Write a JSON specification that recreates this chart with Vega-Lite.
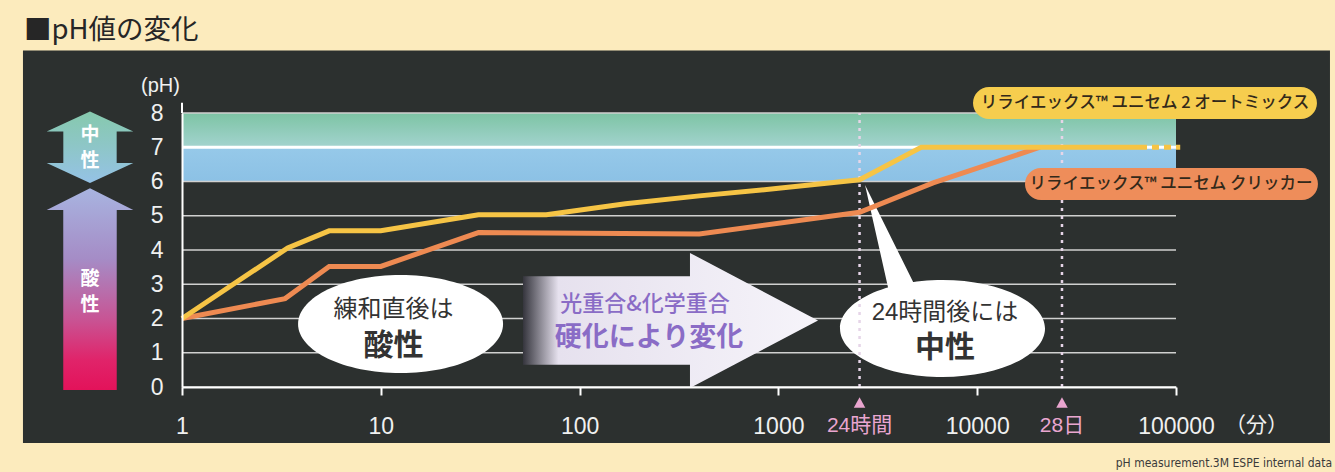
{
  "$schema": "https://vega.github.io/schema/vega-lite/v6.json",
  "width": 994,
  "height": 274,
  "autosize": {"type": "none"},
  "padding": {"left": 182, "top": 113, "right": 159, "bottom": 85},
  "background": "#fcebbd",
  "title": {"text": "■pH値の変化", "anchor": "start", "frame": "group", "orient": "top", "font": "Noto Sans CJK JP", "fontSize": 27.5, "fontWeight": "normal", "color": "#262626", "dx": -158, "dy": -6, "offset": 0},
  "config": {"view": {"stroke": null}, "font": "Liberation Sans, Noto Sans CJK JP, sans-serif", "axisY": {"labelOverlap": false}},
  "datasets": {
    "ph": [
      {"series": "リライエックス™ ユニセム 2 オートミックス", "kind": "measured", "t": 1, "ph": 2.0},
      {"series": "リライエックス™ ユニセム 2 オートミックス", "kind": "measured", "t": 3.4, "ph": 4.06},
      {"series": "リライエックス™ ユニセム 2 オートミックス", "kind": "measured", "t": 5.5, "ph": 4.56},
      {"series": "リライエックス™ ユニセム 2 オートミックス", "kind": "measured", "t": 10, "ph": 4.56},
      {"series": "リライエックス™ ユニセム 2 オートミックス", "kind": "measured", "t": 31, "ph": 5.03},
      {"series": "リライエックス™ ユニセム 2 オートミックス", "kind": "measured", "t": 68, "ph": 5.03},
      {"series": "リライエックス™ ユニセム 2 オートミックス", "kind": "measured", "t": 170, "ph": 5.35},
      {"series": "リライエックス™ ユニセム 2 オートミックス", "kind": "measured", "t": 400, "ph": 5.58},
      {"series": "リライエックス™ ユニセム 2 オートミックス", "kind": "measured", "t": 1000, "ph": 5.8},
      {"series": "リライエックス™ ユニセム 2 オートミックス", "kind": "measured", "t": 2560, "ph": 6.05},
      {"series": "リライエックス™ ユニセム 2 オートミックス", "kind": "measured", "t": 5230, "ph": 7.0},
      {"series": "リライエックス™ ユニセム 2 オートミックス", "kind": "measured", "t": 65900, "ph": 7.0},
      {"series": "リライエックス™ ユニセム 2 オートミックス", "kind": "extrapolated", "t": 65900, "ph": 7.0},
      {"series": "リライエックス™ ユニセム 2 オートミックス", "kind": "extrapolated", "t": 105000, "ph": 7.0},
      {"series": "リライエックス™ ユニセム クリッカー", "kind": "measured", "t": 1, "ph": 2.0},
      {"series": "リライエックス™ ユニセム クリッカー", "kind": "measured", "t": 3.3, "ph": 2.58},
      {"series": "リライエックス™ ユニセム クリッカー", "kind": "measured", "t": 5.5, "ph": 3.52},
      {"series": "リライエックス™ ユニセム クリッカー", "kind": "measured", "t": 10, "ph": 3.52},
      {"series": "リライエックス™ ユニセム クリッカー", "kind": "measured", "t": 31, "ph": 4.51},
      {"series": "リライエックス™ ユニセム クリッカー", "kind": "measured", "t": 400, "ph": 4.47},
      {"series": "リライエックス™ ユニセム クリッカー", "kind": "measured", "t": 2560, "ph": 5.1},
      {"series": "リライエックス™ ユニセム クリッカー", "kind": "measured", "t": 6000, "ph": 5.96},
      {"series": "リライエックス™ ユニセム クリッカー", "kind": "measured", "t": 20700, "ph": 7.0}
    ],
    "grid": [{"ph": 0}, {"ph": 1}, {"ph": 2}, {"ph": 3}, {"ph": 4}, {"ph": 5}, {"ph": 6}, {"ph": 8}],
    "markers": [{"t": 2560, "label": "24時間"}, {"t": 26700, "label": "28日"}]
  },
  "layer": [
    {
      "data": {"values": [{}]},
      "mark": {"type": "rect", "fill": "#2c302f"},
      "encoding": {
        "x": {"datum": 0.1585, "type": "quantitative",
          "scale": {"type": "log", "domain": [1, 100000], "nice": false},
          "axis": {"values": [1, 10, 100, 1000, 10000, 100000], "format": "d", "title": "（分）", "zindex": 1, "grid": false,
            "domainColor": "#ffffff", "domainWidth": 2, "tickColor": "#ffffff", "tickWidth": 2, "tickSize": 8,
            "labelColor": "#f0f0f0", "labelFontSize": 23, "labelFont": "Liberation Sans", "labelPadding": 31, "labelBaseline": "middle",
            "labelFlush": false, "labelOverlap": false,
            "titleColor": "#f0f0f0", "titleFont": "Noto Sans CJK JP", "titleFontSize": 21, "titleFontWeight": "normal",
            "titleX": 1074, "titleY": 38, "titleAlign": "center", "titleBaseline": "middle"}},
        "x2": {"datum": 595000},
        "y": {"datum": 9.825, "type": "quantitative",
          "scale": {"domain": [0, 8], "nice": false, "zero": false},
          "axis": {"values": [0, 1, 2, 3, 4, 5, 6, 7, 8], "tickCount": 9, "title": "(pH)", "zindex": 1, "grid": false,
            "domainColor": "#ffffff", "domainWidth": 2, "ticks": false, "tickSize": 0,
            "labelColor": "#f0f0f0", "labelFontSize": 23, "labelFont": "Liberation Sans", "labelPadding": 19, "labelBaseline": "middle",
            "labelOverlap": false, "labelFlush": false, "labelSeparation": 0, "labelLimit": 0,
            "titleAngle": 0, "titleX": -22, "titleY": -28, "titleAlign": "center", "titleBaseline": "middle",
            "titleColor": "#f0f0f0", "titleFont": "Liberation Sans", "titleFontSize": 20, "titleFontWeight": "normal"}},
        "y2": {"datum": -1.635}
      }
    },
    {
      "data": {"values": [{}]},
      "mark": {"type": "rect", "fill": {"gradient": "linear", "x1": 0, "y1": 0, "x2": 0, "y2": 1, "stops": [{"offset": 0, "color": "#7dc4a4"}, {"offset": 1, "color": "#a3d3cf"}]}},
      "encoding": {"x": {"datum": 1, "type": "quantitative"}, "x2": {"datum": 100000}, "y": {"datum": 8, "type": "quantitative"}, "y2": {"datum": 7}}
    },
    {
      "data": {"values": [{}]},
      "mark": {"type": "rect", "fill": {"gradient": "linear", "x1": 0, "y1": 0, "x2": 0, "y2": 1, "stops": [{"offset": 0, "color": "#96c9e9"}, {"offset": 1, "color": "#8cc1e5"}]}},
      "encoding": {"x": {"datum": 1, "type": "quantitative"}, "x2": {"datum": 100000}, "y": {"datum": 7, "type": "quantitative"}, "y2": {"datum": 6}}
    },
    {
      "data": {"name": "grid"},
      "mark": {"type": "rule", "color": "#d0d0d0", "strokeWidth": 1.5},
      "encoding": {"x": {"datum": 1, "type": "quantitative"}, "x2": {"datum": 100000}, "y": {"field": "ph", "type": "quantitative"}}
    },
    {
      "data": {"values": [{}]},
      "mark": {"type": "rule", "color": "#ffffff", "strokeWidth": 3},
      "encoding": {"x": {"datum": 1, "type": "quantitative"}, "x2": {"datum": 100000}, "y": {"datum": 7, "type": "quantitative"}}
    },
    {
      "data": {"values": [{}]},
      "mark": {"type": "rule", "color": "#ffffff", "strokeWidth": 2},
      "encoding": {"x": {"datum": 1, "type": "quantitative"}, "y": {"datum": 8, "type": "quantitative"}, "y2": {"datum": 8.3}}
    },
    {
      "data": {"values": [{}]},
      "mark": {"type": "point", "filled": true, "opacity": 1, "strokeWidth": 0, "size": 7500,
        "shape": "M0,-0.827L1,-0.365L0.616,-0.365L0.616,0.365L1,0.365L0,0.827L-1,0.365L-0.616,0.365L-0.616,-0.365L-1,-0.365Z",
        "fill": {"gradient": "linear", "x1": 0, "y1": 0, "x2": 0, "y2": 1, "stops": [{"offset": 0, "color": "#86c9ad"}, {"offset": 0.5, "color": "#8ec6c8"}, {"offset": 1, "color": "#95c2e6"}]}},
      "encoding": {"x": {"datum": 0.3445, "type": "quantitative"}, "y": {"datum": 7.0, "type": "quantitative"}}
    },
    {
      "data": {"values": [{}]},
      "mark": {"type": "point", "filled": true, "opacity": 1, "strokeWidth": 0, "size": 40724,
        "shape": "M0,-1L0.429,-0.785L0.265,-0.785L0.265,1L-0.265,1L-0.265,-0.785L-0.429,-0.785Z",
        "fill": {"gradient": "linear", "x1": 0, "y1": 0, "x2": 0, "y2": 1, "stops": [{"offset": 0, "color": "#a8b4e0"}, {"offset": 0.35, "color": "#a58cc6"}, {"offset": 0.65, "color": "#c85494"}, {"offset": 0.85, "color": "#e0246a"}, {"offset": 1, "color": "#e3125a"}]}},
      "encoding": {"x": {"datum": 0.3445, "type": "quantitative"}, "y": {"datum": 2.856, "type": "quantitative"}}
    },
    {
      "data": {"values": [{}]},
      "mark": {"type": "point", "filled": true, "opacity": 1, "strokeWidth": 0, "size": 87025,
        "shape": "M-1,-0.3L0.132,-0.3L0.132,-0.458L1,0L0.132,0.458L0.132,0.3L-1,0.3Z",
        "fill": {"gradient": "linear", "x1": 0, "y1": 0, "x2": 1, "y2": 0, "stops": [{"offset": 0, "color": "#35353d"}, {"offset": 0.12, "color": "#e6e1ee"}, {"offset": 1, "color": "#f6f4fa"}]}},
      "encoding": {"x": {"datum": 286.6, "type": "quantitative"}, "y": {"datum": 1.942, "type": "quantitative"}}
    },
    {
      "data": {"values": [{}]},
      "mark": {"type": "point", "filled": true, "opacity": 1, "strokeWidth": 0, "size": 42025, "color": "#ffffff",
        "shape": "M-1,0A1,0.478 0 1,1 1,0A1,0.478 0 1,1 -1,0Z"},
      "encoding": {"x": {"datum": 12.57, "type": "quantitative"}, "y": {"datum": 1.839, "type": "quantitative"}}
    },
    {
      "data": {"values": [{}]},
      "mark": {"type": "point", "filled": true, "opacity": 1, "strokeWidth": 0, "size": 42025, "color": "#ffffff",
        "shape": "M-1,0A1,0.473 0 1,1 1,0A1,0.473 0 1,1 -1,0Z M-0.52,-0.35L-0.756,-1.4L-0.26,-0.4Z"},
      "encoding": {"x": {"datum": 6692, "type": "quantitative"}, "y": {"datum": 1.708, "type": "quantitative"}}
    },
    {
      "data": {"name": "markers"},
      "mark": {"type": "rule", "color": "#e6d5e8", "strokeWidth": 2.5, "strokeDash": [3, 5]},
      "encoding": {"x": {"field": "t", "type": "quantitative"}, "y": {"datum": 0, "type": "quantitative"}, "y2": {"datum": 8}}
    },
    {
      "data": {"name": "markers"},
      "mark": {"type": "point", "filled": true, "opacity": 1, "strokeWidth": 0, "size": 132, "color": "#e9a5cf",
        "shape": "M0,-0.9L1,0.9L-1,0.9Z"},
      "encoding": {"x": {"field": "t", "type": "quantitative"}, "y": {"datum": -0.453, "type": "quantitative"}}
    },
    {
      "data": {"name": "markers"},
      "mark": {"type": "text", "color": "#eaa6d0", "fontSize": 21, "font": "Liberation Sans, Noto Sans CJK JP", "baseline": "middle", "align": "center"},
      "encoding": {"x": {"field": "t", "type": "quantitative"}, "y": {"datum": -1.14, "type": "quantitative"}, "text": {"field": "label"}}
    },
    {
      "data": {"name": "ph"},
      "transform": [{"filter": {"field": "series", "equal": "リライエックス™ ユニセム クリッカー"}}],
      "mark": {"type": "line", "strokeWidth": 5},
      "encoding": {
        "x": {"field": "t", "type": "quantitative"},
        "y": {"field": "ph", "type": "quantitative"},
        "color": {"field": "series", "type": "nominal", "scale": {"domain": ["リライエックス™ ユニセム 2 オートミックス", "リライエックス™ ユニセム クリッカー"], "range": ["#f6c445", "#ee8a52"]}, "legend": null}
      }
    },
    {
      "data": {"name": "ph"},
      "transform": [{"filter": {"field": "series", "equal": "リライエックス™ ユニセム 2 オートミックス"}}, {"filter": {"field": "kind", "equal": "measured"}}],
      "mark": {"type": "line", "strokeWidth": 5},
      "encoding": {
        "x": {"field": "t", "type": "quantitative"},
        "y": {"field": "ph", "type": "quantitative"},
        "color": {"field": "series", "type": "nominal", "legend": null}
      }
    },
    {
      "data": {"name": "ph"},
      "transform": [{"filter": {"field": "kind", "equal": "extrapolated"}}],
      "mark": {"type": "line", "strokeWidth": 5, "strokeDash": [7, 5]},
      "encoding": {
        "x": {"field": "t", "type": "quantitative"},
        "y": {"field": "ph", "type": "quantitative"},
        "color": {"field": "series", "type": "nominal", "legend": null}
      }
    },
    {
      "data": {"values": [{}]},
      "mark": {"type": "rect", "fill": "#f6cd4e", "cornerRadius": 16},
      "encoding": {"x": {"datum": 9528, "type": "quantitative"}, "x2": {"datum": 511700}, "y": {"datum": 8.759, "type": "quantitative"}, "y2": {"datum": 7.825}}
    },
    {
      "data": {"values": [{}]},
      "mark": {"type": "rect", "fill": "#ee8d5a", "cornerRadius": 16},
      "encoding": {"x": {"datum": 17395, "type": "quantitative"}, "x2": {"datum": 517600}, "y": {"datum": 6.394, "type": "quantitative"}, "y2": {"datum": 5.46}}
    },
    {
      "data": {"values": [{}]},
      "mark": {"type": "text", "text": "リライエックス™ ユニセム 2 オートミックス", "font": "Noto Sans CJK JP", "fontSize": 16.5, "fontWeight": 500, "color": "#33291a", "align": "center", "baseline": "middle"},
      "encoding": {"x": {"datum": 69850, "type": "quantitative"}, "y": {"datum": 8.292, "type": "quantitative"}}
    },
    {
      "data": {"values": [{}]},
      "mark": {"type": "text", "text": "リライエックス™ ユニセム クリッカー", "font": "Noto Sans CJK JP", "fontSize": 16.5, "fontWeight": 500, "color": "#33291a", "align": "center", "baseline": "middle"},
      "encoding": {"x": {"datum": 94400, "type": "quantitative"}, "y": {"datum": 5.927, "type": "quantitative"}}
    },
    {
      "data": {"values": [{}]},
      "mark": {"type": "text", "text": "練和直後は", "font": "Noto Sans CJK JP", "fontSize": 24, "color": "#333333", "align": "center", "baseline": "middle"},
      "encoding": {"x": {"datum": 11.6, "type": "quantitative"}, "y": {"datum": 2.248, "type": "quantitative"}}
    },
    {
      "data": {"values": [{}]},
      "mark": {"type": "text", "text": "酸性", "font": "Noto Sans CJK JP", "fontSize": 30, "fontWeight": "bold", "color": "#333333", "align": "center", "baseline": "middle"},
      "encoding": {"x": {"datum": 11.6, "type": "quantitative"}, "y": {"datum": 1.197, "type": "quantitative"}}
    },
    {
      "data": {"values": [{}]},
      "mark": {"type": "text", "text": "24時間後には", "font": "Liberation Sans, Noto Sans CJK JP", "fontSize": 24, "color": "#333333", "align": "center", "baseline": "middle"},
      "encoding": {"x": {"datum": 6887, "type": "quantitative"}, "y": {"datum": 2.161, "type": "quantitative"}}
    },
    {
      "data": {"values": [{}]},
      "mark": {"type": "text", "text": "中性", "font": "Noto Sans CJK JP", "fontSize": 30, "fontWeight": "bold", "color": "#333333", "align": "center", "baseline": "middle"},
      "encoding": {"x": {"datum": 6887, "type": "quantitative"}, "y": {"datum": 1.139, "type": "quantitative"}}
    },
    {
      "data": {"values": [{}]},
      "mark": {"type": "text", "text": "光重合&化学重合", "font": "Noto Sans CJK JP", "fontSize": 22, "fontWeight": 500, "color": "#8a6cc6", "align": "center", "baseline": "middle"},
      "encoding": {"x": {"datum": 213.3, "type": "quantitative"}, "y": {"datum": 2.43, "type": "quantitative"}}
    },
    {
      "data": {"values": [{}]},
      "mark": {"type": "text", "text": "硬化により変化", "font": "Noto Sans CJK JP", "fontSize": 27, "fontWeight": "bold", "color": "#8a6cc6", "align": "center", "baseline": "middle"},
      "encoding": {"x": {"datum": 223.4, "type": "quantitative"}, "y": {"datum": 1.44, "type": "quantitative"}}
    },
    {
      "data": {"values": [{}]},
      "mark": {"type": "text", "text": "中", "font": "Noto Sans CJK JP", "fontSize": 19, "fontWeight": "bold", "color": "#ffffff", "align": "center", "baseline": "middle"},
      "encoding": {"x": {"datum": 0.3445, "type": "quantitative"}, "y": {"datum": 7.37, "type": "quantitative"}}
    },
    {
      "data": {"values": [{}]},
      "mark": {"type": "text", "text": "性", "font": "Noto Sans CJK JP", "fontSize": 19, "fontWeight": "bold", "color": "#ffffff", "align": "center", "baseline": "middle"},
      "encoding": {"x": {"datum": 0.3445, "type": "quantitative"}, "y": {"datum": 6.6, "type": "quantitative"}}
    },
    {
      "data": {"values": [{}]},
      "mark": {"type": "text", "text": "酸", "font": "Noto Sans CJK JP", "fontSize": 19, "fontWeight": "bold", "color": "#ffffff", "align": "center", "baseline": "middle"},
      "encoding": {"x": {"datum": 0.3445, "type": "quantitative"}, "y": {"datum": 3.16, "type": "quantitative"}}
    },
    {
      "data": {"values": [{}]},
      "mark": {"type": "text", "text": "性", "font": "Noto Sans CJK JP", "fontSize": 19, "fontWeight": "bold", "color": "#ffffff", "align": "center", "baseline": "middle"},
      "encoding": {"x": {"datum": 0.3445, "type": "quantitative"}, "y": {"datum": 2.38, "type": "quantitative"}}
    },
    {
      "data": {"values": [{}]},
      "mark": {"type": "text", "text": "pH measurement.3M ESPE internal data", "font": "Liberation Sans Narrow, DejaVu Sans Condensed, sans-serif", "fontSize": 12, "color": "#3a3a3a", "align": "right", "baseline": "middle"},
      "encoding": {"x": {"datum": 609500, "type": "quantitative"}, "y": {"datum": -2.219, "type": "quantitative"}}
    }
  ]
}
